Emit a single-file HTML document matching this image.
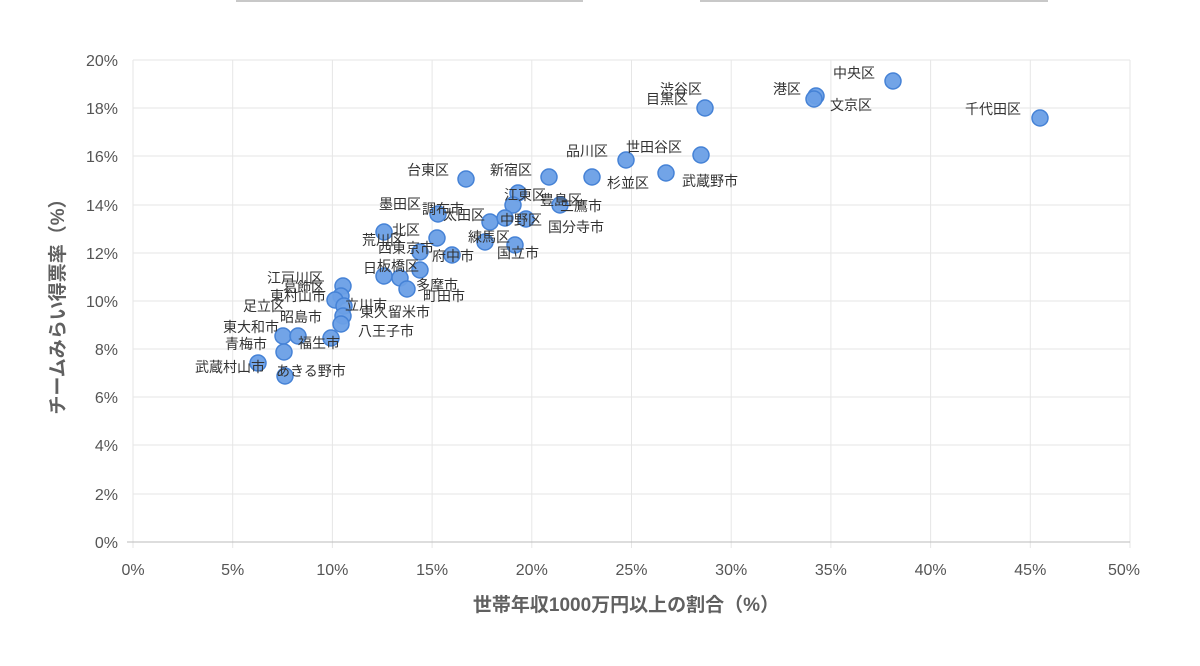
<!DOCTYPE html>
<html><head><meta charset="utf-8"><style>
body{margin:0;background:#fff;}
svg text{font-family:"Liberation Sans","Noto Sans CJK JP",sans-serif;}
</style></head><body>
<svg width="1200" height="661" xmlns="http://www.w3.org/2000/svg">
<line x1="236" y1="1" x2="583" y2="1" stroke="#c8c8c8" stroke-width="2"/>
<line x1="700" y1="1" x2="1048" y2="1" stroke="#c8c8c8" stroke-width="2"/>
<g stroke="#e6e6e6" stroke-width="1">
<line x1="133" y1="60" x2="1130" y2="60"/><line x1="133" y1="108" x2="1130" y2="108"/><line x1="133" y1="156" x2="1130" y2="156"/><line x1="133" y1="205" x2="1130" y2="205"/><line x1="133" y1="253" x2="1130" y2="253"/><line x1="133" y1="301" x2="1130" y2="301"/><line x1="133" y1="349" x2="1130" y2="349"/><line x1="133" y1="397" x2="1130" y2="397"/><line x1="133" y1="445" x2="1130" y2="445"/><line x1="133" y1="494" x2="1130" y2="494"/>
<line x1="232.7" y1="60" x2="232.7" y2="548"/><line x1="332.4" y1="60" x2="332.4" y2="548"/><line x1="432.1" y1="60" x2="432.1" y2="548"/><line x1="531.8" y1="60" x2="531.8" y2="548"/><line x1="631.5" y1="60" x2="631.5" y2="548"/><line x1="731.2" y1="60" x2="731.2" y2="548"/><line x1="830.9" y1="60" x2="830.9" y2="548"/><line x1="930.6" y1="60" x2="930.6" y2="548"/><line x1="1030.3" y1="60" x2="1030.3" y2="548"/><line x1="1130" y1="60" x2="1130" y2="548"/>
<line x1="133" y1="60" x2="133" y2="548"/>
</g>
<line x1="127" y1="542" x2="1130" y2="542" stroke="#bbb"/>
<g font-size="16" fill="#555" text-anchor="end">
<text x="118" y="66">20%</text><text x="118" y="114">18%</text><text x="118" y="162">16%</text><text x="118" y="211">14%</text><text x="118" y="259">12%</text><text x="118" y="307">10%</text><text x="118" y="355">8%</text><text x="118" y="403">6%</text><text x="118" y="451">4%</text><text x="118" y="500">2%</text><text x="118" y="548">0%</text>
</g>
<g font-size="16" fill="#555" text-anchor="middle">
<text x="133" y="575">0%</text><text x="232.7" y="575">5%</text><text x="332.4" y="575">10%</text><text x="432.1" y="575">15%</text><text x="531.8" y="575">20%</text><text x="631.5" y="575">25%</text><text x="731.2" y="575">30%</text><text x="830.9" y="575">35%</text><text x="930.6" y="575">40%</text><text x="1030.3" y="575">45%</text><text x="1124" y="575">50%</text>
</g>
<text x="626" y="611" font-size="19" font-weight="bold" fill="#606060" text-anchor="middle">世帯年収1000万円以上の割合（%）</text>
<text transform="translate(64,302) rotate(-90)" font-size="19" font-weight="bold" fill="#606060" text-anchor="middle">チームみらい得票率（%）</text>
<g fill="#6a9fe6" stroke="#4582d6" stroke-width="1.5" fill-opacity="0.95">
<circle cx="893" cy="81" r="8"/><circle cx="1040" cy="118" r="8"/><circle cx="816" cy="96" r="8"/><circle cx="814" cy="99" r="8"/>
<circle cx="705" cy="108" r="8"/><circle cx="701" cy="155" r="8"/><circle cx="626" cy="160" r="8"/><circle cx="592" cy="177" r="8"/><circle cx="666" cy="173" r="8"/>
<circle cx="549" cy="177" r="8"/><circle cx="466" cy="179" r="8"/><circle cx="518" cy="193" r="8"/><circle cx="513" cy="205" r="8"/><circle cx="560" cy="205" r="8"/>
<circle cx="438" cy="214" r="8"/><circle cx="490" cy="222" r="8"/><circle cx="505" cy="218" r="8"/><circle cx="526" cy="219" r="8"/><circle cx="485" cy="242" r="8"/><circle cx="515" cy="245" r="8"/>
<circle cx="384" cy="232" r="8"/><circle cx="437" cy="238" r="8"/><circle cx="420" cy="252" r="8"/><circle cx="452" cy="255" r="8"/>
<circle cx="384" cy="276" r="8"/><circle cx="400" cy="278" r="8"/><circle cx="407" cy="289" r="8"/><circle cx="420" cy="270" r="8"/>
<circle cx="343" cy="286" r="8"/><circle cx="341" cy="296" r="8"/><circle cx="335" cy="300" r="8"/><circle cx="344" cy="306" r="8"/><circle cx="343" cy="316" r="8"/><circle cx="341" cy="324" r="8"/>
<circle cx="283" cy="336" r="8"/><circle cx="298" cy="336" r="8"/><circle cx="284" cy="352" r="8"/><circle cx="331" cy="338" r="8"/><circle cx="258" cy="363" r="8"/><circle cx="285" cy="376" r="8"/>
</g>
<g font-size="14" fill="#333">
<text x="833" y="78">中央区</text><text x="965" y="114">千代田区</text><text x="773" y="94">港区</text><text x="830" y="110">文京区</text>
<text x="660" y="94">渋谷区</text><text x="646" y="104">目黒区</text><text x="626" y="152">世田谷区</text><text x="566" y="156">品川区</text><text x="607" y="188">杉並区</text><text x="682" y="186">武蔵野市</text>
<text x="490" y="175">新宿区</text><text x="407" y="175">台東区</text><text x="504" y="200">江東区</text><text x="540" y="205">豊島区</text><text x="560" y="211">三鷹市</text>
<text x="379" y="209">墨田区</text><text x="422" y="214">調布市</text><text x="443" y="220">太田区</text><text x="500" y="225">中野区</text><text x="548" y="232">国分寺市</text><text x="468" y="242">練馬区</text><text x="497" y="258">国立市</text>
<text x="392" y="235">北区</text><text x="362" y="245">荒川区</text><text x="378" y="253">西東京市</text><text x="432" y="261">府中市</text><text x="363" y="273">日</text><text x="377" y="271">板橋区</text>
<text x="416" y="290">多摩市</text><text x="423" y="301">町田市</text>
<text x="267" y="283">江戸川区</text><text x="283" y="292">葛飾区</text><text x="270" y="301">東村山市</text><text x="243" y="311">足立区</text><text x="280" y="322">昭島市</text>
<text x="345" y="310">立川市</text><text x="360" y="317">東久留米市</text><text x="358" y="336">八王子市</text><text x="223" y="332">東大和市</text><text x="225" y="349">青梅市</text><text x="298" y="348">福生市</text><text x="195" y="372">武蔵村山市</text><text x="276" y="376">あきる野市</text>
</g>
</svg>
</body></html>
